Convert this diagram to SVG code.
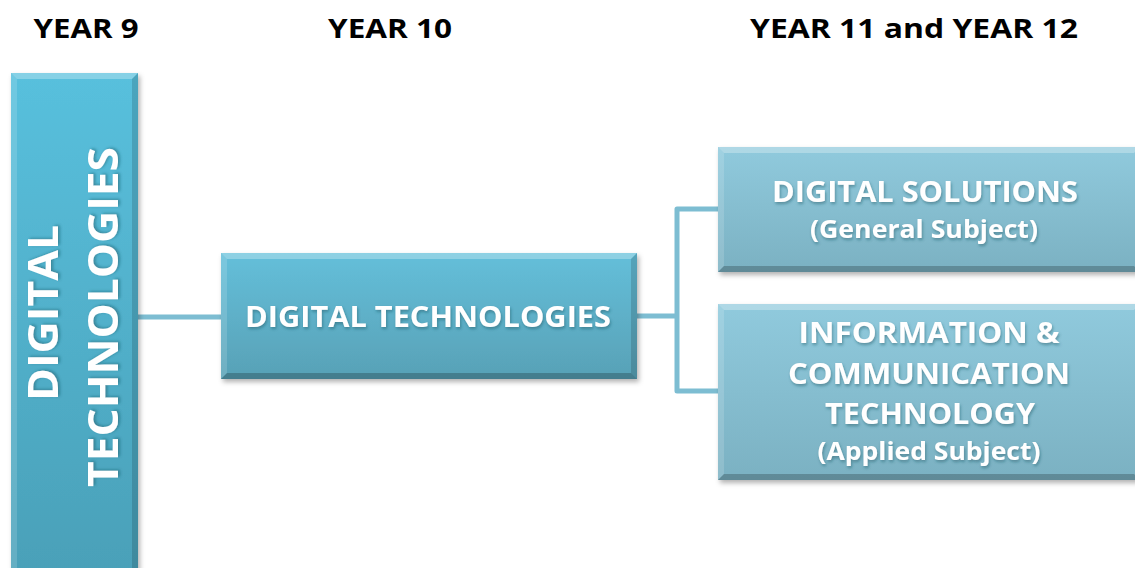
<svg xmlns="http://www.w3.org/2000/svg" width="1135" height="568" viewBox="0 0 1135 568">
<defs>
<linearGradient id="gLeft" x1="0" y1="0" x2="0" y2="1"><stop offset="0" stop-color="#58c0dd"/><stop offset="1" stop-color="#4aa0b8"/></linearGradient>
<linearGradient id="gMid" x1="0" y1="0" x2="0" y2="1"><stop offset="0" stop-color="#64bfda"/><stop offset="1" stop-color="#58a1b6"/></linearGradient>
<linearGradient id="gRight" x1="0" y1="0" x2="0" y2="1"><stop offset="0" stop-color="#90cadd"/><stop offset="1" stop-color="#7bb1c2"/></linearGradient>
<filter id="sh" x="-10%" y="-10%" width="120%" height="130%"><feDropShadow dx="2" dy="3" stdDeviation="2.5" flood-color="#000" flood-opacity="0.3"/></filter>
<filter id="tsh" x="-10%" y="-20%" width="120%" height="150%"><feDropShadow dx="1" dy="2" stdDeviation="1.5" flood-color="#1d4d5c" flood-opacity="0.45"/></filter>
</defs>
<style>
.hdr{font-family:"Open Sans",Lato,"Liberation Sans",sans-serif;font-weight:bold;font-size:27px;fill:#000;text-anchor:middle}
.lbl{font-family:"Open Sans",Lato,"Liberation Sans",sans-serif;font-weight:bold;fill:#fff;text-anchor:middle;filter:url(#tsh)}
.hi{fill:#fff;opacity:0.28}
.hi2{fill:#fff;opacity:0.15}
.dk{fill:#000;opacity:0.14}
.dk2{fill:#000;opacity:0.22}
.conn{fill:none;stroke:#7dbdd2;stroke-width:5;stroke-linejoin:round}
</style>
<rect width="1135" height="568" fill="#fff"/>
<g id="headers">
<text class="hdr" x="86" y="38" textLength="105" lengthAdjust="spacingAndGlyphs">YEAR 9</text>
<text class="hdr" x="390" y="38" textLength="124" lengthAdjust="spacingAndGlyphs">YEAR 10</text>
<text class="hdr" x="914" y="38" textLength="328" lengthAdjust="spacingAndGlyphs">YEAR 11 and YEAR 12</text>
</g>
<g id="connectors">
<path class="conn" d="M138 317 H221"/>
<path class="conn" d="M637 316 H677 M718 209 H677 V391 H718"/>
</g>
<g id="node-year9">
<rect x="11" y="73" width="127" height="505" fill="url(#gLeft)" filter="url(#sh)"/>
<polygon class="hi" points="11,73 138,73 132,79 17,79"/>
<polygon class="hi2" points="11,73 17,79 17,568 11,568"/>
<polygon class="dk" points="138,73 138,568 132,568 132,79"/>
<text class="lbl" font-size="42" transform="translate(58,313) rotate(-90)" textLength="176" lengthAdjust="spacingAndGlyphs">DIGITAL</text>
<text class="lbl" font-size="42" transform="translate(118,317) rotate(-90)" textLength="340" lengthAdjust="spacingAndGlyphs">TECHNOLOGIES</text>
</g>
<g id="node-year10">
<rect x="221" y="253" width="416" height="126" fill="url(#gMid)" filter="url(#sh)"/>
<polygon class="hi" points="221,253 637,253 631,259 227,259"/>
<polygon class="hi2" points="221,253 227,259 227,373 221,379"/>
<polygon class="dk" points="637,253 637,379 631,373 631,259"/>
<polygon class="dk2" points="221,379 637,379 631,373 227,373"/>
<text class="lbl" font-size="29" x="428" y="327" textLength="366" lengthAdjust="spacingAndGlyphs">DIGITAL TECHNOLOGIES</text>
</g>
<g id="node-digital-solutions">
<rect x="718" y="147" width="422" height="125" fill="url(#gRight)" filter="url(#sh)"/>
<polygon class="hi" points="718,147 1140,147 1134,153 724,153"/>
<polygon class="hi2" points="718,147 724,153 724,266 718,272"/>
<polygon class="dk2" points="718,272 1140,272 1134,266 724,266"/>
<text class="lbl" font-size="29" x="925" y="202" textLength="306" lengthAdjust="spacingAndGlyphs">DIGITAL SOLUTIONS</text>
<text class="lbl" font-size="25" x="924" y="238" textLength="228" lengthAdjust="spacingAndGlyphs">(General Subject)</text>
</g>
<g id="node-ict">
<rect x="718" y="304" width="422" height="176" fill="url(#gRight)" filter="url(#sh)"/>
<polygon class="hi" points="718,304 1140,304 1134,310 724,310"/>
<polygon class="hi2" points="718,304 724,310 724,474 718,480"/>
<polygon class="dk2" points="718,480 1140,480 1134,474 724,474"/>
<text class="lbl" font-size="29" x="929" y="343" textLength="261" lengthAdjust="spacingAndGlyphs">INFORMATION &amp;</text>
<text class="lbl" font-size="29" x="929" y="384" textLength="282" lengthAdjust="spacingAndGlyphs">COMMUNICATION</text>
<text class="lbl" font-size="29" x="930" y="424" textLength="210" lengthAdjust="spacingAndGlyphs">TECHNOLOGY</text>
<text class="lbl" font-size="25" x="929" y="460" textLength="223" lengthAdjust="spacingAndGlyphs">(Applied Subject)</text>
</g>
</svg>
